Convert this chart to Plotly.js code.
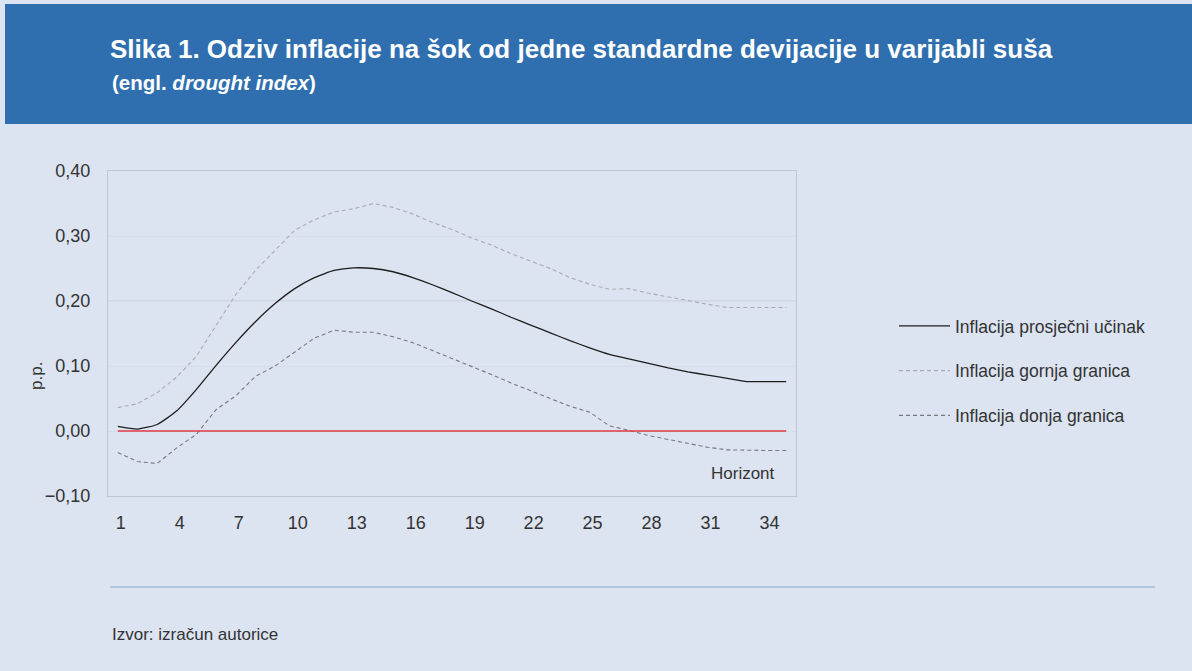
<!DOCTYPE html>
<html>
<head>
<meta charset="utf-8">
<script src="https://cdn.plot.ly/plotly-3.0.1.min.js"></script>
<style>
  html, body { margin: 0; padding: 0; background: #ffffff; }
  #chart { width: 1192px; height: 671px; }
</style>
</head>
<body>
<div id="chart"></div>
<script>
// Horizon categories 1..35
const horizon = [1,2,3,4,5,6,7,8,9,10,11,12,13,14,15,16,17,18,19,20,21,22,23,24,25,26,27,28,29,30,31,32,33,34,35];

const prosjecni = [0.007,0.003,0.010,0.031,0.064,0.101,0.136,0.168,0.196,0.219,0.236,0.247,0.251,0.250,0.245,0.236,0.225,0.213,0.200,0.188,0.175,0.163,0.151,0.139,0.128,0.118,0.111,0.104,0.097,0.091,0.086,0.081,0.076,0.076,0.076];

const gornja = [0.036,0.042,0.059,0.083,0.115,0.163,0.210,0.247,0.278,0.309,0.325,0.337,0.342,0.350,0.344,0.334,0.321,0.310,0.297,0.286,0.273,0.262,0.250,0.236,0.226,0.218,0.219,0.212,0.206,0.200,0.195,0.190,0.190,0.190,0.190];

const donja = [-0.033,-0.047,-0.050,-0.026,-0.005,0.033,0.054,0.084,0.100,0.122,0.143,0.155,0.152,0.152,0.145,0.136,0.124,0.112,0.100,0.087,0.074,0.062,0.050,0.038,0.029,0.008,0.001,-0.007,-0.013,-0.019,-0.025,-0.029,-0.030,-0.030,-0.030];

const xTicks = [1,4,7,10,13,16,19,22,25,28,31,34];
const yTicks = [-0.10,0.00,0.10,0.20,0.30,0.40];

const seriesNames = ["Inflacija prosječni učinak","Inflacija gornja granica","Inflacija donja granica"];

const FONT = "'Liberation Sans', Arial, sans-serif";
const BG = "#dce3f1";
const TXT = "#333333";

const traces = [
  {x: horizon, y: prosjecni, name: seriesNames[0], type: "scatter", mode: "lines",
   line: {color: "#1e1e1e", width: 1.3, shape: "spline", smoothing: 0.5},
   legendgroup: "a", hoverinfo: "x+y"},
  {x: horizon, y: gornja, name: seriesNames[1], type: "scatter", mode: "lines",
   line: {color: "#a9abb0", width: 1.1, dash: "4px,3px"},
   legendgroup: "b", hoverinfo: "x+y"},
  {x: horizon, y: donja, name: seriesNames[2], type: "scatter", mode: "lines",
   line: {color: "#76797f", width: 1.1, dash: "4px,3px"},
   legendgroup: "c", hoverinfo: "x+y"}
];

const layout = {
  width: 1192, height: 671,
  paper_bgcolor: BG, plot_bgcolor: BG,
  margin: {l: 108, r: 396, t: 171, b: 175, pad: 0},
  separators: ", ",
  font: {family: FONT, size: 18, color: TXT},
  showlegend: true,
  title: {
    text: "<b>Slika 1. Odziv inflacije na šok od jedne standardne devijacije u varijabli suša</b>",
    font: {family: FONT, size: 26, color: "#ffffff"},
    xref: "container", yref: "container",
    x: 110/1192, xanchor: "left",
    y: 1 - 49/671, yanchor: "middle"
  },
  xaxis: {
    range: [0.5, 35.5],
    tickmode: "array", tickvals: xTicks, ticktext: xTicks.map(String),
    showgrid: false, zeroline: false,
    showline: true, mirror: true, linecolor: "#bfc6d6", linewidth: 1.2,
    ticks: "", ticklabelstandoff: 10, ticklabelshift: 3,
    tickfont: {family: FONT, size: 18, color: TXT},
    fixedrange: true
  },
  yaxis: {
    range: [-0.10, 0.40],
    tickmode: "array", tickvals: yTicks,
    tickformat: ".2f",
    showgrid: true, gridcolor: "#d5dcec", gridwidth: 1,
    zeroline: false,
    showline: true, mirror: true, linecolor: "#bfc6d6", linewidth: 1.2,
    ticks: "", ticklabelstandoff: 13,
    tickfont: {family: FONT, size: 18, color: TXT},
    fixedrange: true
  },
  legend: {
    x: (894 - 108) / 688, xanchor: "left",
    y: (496 - 308) / 325, yanchor: "top",
    bgcolor: "rgba(0,0,0,0)", borderwidth: 0,
    traceorder: "grouped", tracegroupgap: 19,
    itemwidth: 51,
    font: {family: FONT, size: 17.5, color: TXT}
  },
  shapes: [
    // header band
    {type: "rect", xref: "paper", yref: "paper", layer: "below",
     x0: (5 - 108) / 688, x1: (1192 - 108) / 688,
     y0: (496 - 124) / 325, y1: (496 - 4) / 325,
     fillcolor: "#2f6faf", line: {width: 0}},
    // slightly stronger 0,20 gridline
    {type: "line", xref: "paper", yref: "y", layer: "below",
     x0: 0, x1: 1, y0: 0.20, y1: 0.20,
     line: {color: "#c4cadb", width: 1.2}},
    // zero reference line (red)
    {type: "line", xref: "x", yref: "y",
     x0: horizon[0], x1: horizon[horizon.length - 1], y0: 0, y1: 0,
     line: {color: "#e23a43", width: 1.6}},
    // bottom separator
    {type: "line", xref: "paper", yref: "paper",
     x0: (110 - 108) / 688, x1: (1155 - 108) / 688,
     y0: (496 - 587) / 325, y1: (496 - 587) / 325,
     line: {color: "#a7bcd8", width: 1.5}}
  ],
  annotations: [
    {text: "<b>(engl. <i>drought index</i>)</b>", xref: "paper", yref: "paper",
     x: (110 - 108) / 688, y: (496 - 83) / 325, xanchor: "left", yanchor: "middle",
     showarrow: false, font: {family: FONT, size: 20.5, color: "#ffffff"}},
    {text: "p.p.", xref: "paper", yref: "paper",
     x: (36 - 108) / 688, y: (496 - 376) / 325, xanchor: "center", yanchor: "middle",
     textangle: -90, showarrow: false, font: {family: FONT, size: 17, color: TXT}},
    {text: "Horizont", xref: "x", yref: "y",
     x: 32.8, y: -0.066, xanchor: "center", yanchor: "middle",
     showarrow: false, font: {family: FONT, size: 17, color: TXT}},
    {text: "Izvor: izračun autorice", xref: "paper", yref: "paper",
     x: (110 - 108) / 688, y: (496 - 634) / 325, xanchor: "left", yanchor: "middle",
     showarrow: false, font: {family: FONT, size: 17, color: TXT}}
  ]
};

Plotly.newPlot("chart", traces, layout, {displayModeBar: false});
</script>
</body>
</html>
